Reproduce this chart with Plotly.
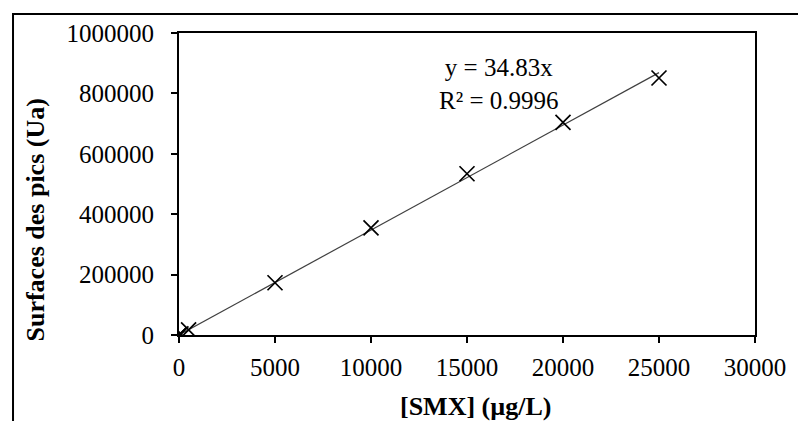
import plotly.graph_objects as go
import numpy as np

# Data
conc_smx = [0, 10, 50, 100, 500, 5000, 10000, 15000, 20000, 25000]
peak_area = [0, 350, 1700, 3500, 17000, 173000, 355000, 534000, 704000, 851000]

x_tickvals = [0, 5000, 10000, 15000, 20000, 25000, 30000]
y_tickvals = [0, 200000, 400000, 600000, 800000, 1000000]

equation_text = "y = 34.83x<br>R² = 0.9996"
x_title = "<b>[SMX] (µg/L)</b>"
y_title = "<b>Surfaces des pics (Ua)</b>"

# Linear trendline through origin (least squares, as a spreadsheet would)
xa = np.array(conc_smx, dtype=float)
ya = np.array(peak_area, dtype=float)
slope = float((xa * ya).sum() / (xa * xa).sum())
trend_x = [0, max(conc_smx)]
trend_y = [slope * v for v in trend_x]

FONT = "Liberation Serif"

fig = go.Figure()
fig.add_trace(go.Scatter(x=trend_x, y=trend_y, mode="lines",
                         line=dict(color="#404040", width=1.2), showlegend=False,
                         hoverinfo="skip"))
fig.add_trace(go.Scatter(x=conc_smx, y=peak_area, mode="markers",
                         marker=dict(symbol="x-thin", size=15,
                                     line=dict(color="black", width=1.7)),
                         showlegend=False))

fig.update_layout(
    width=798, height=421,
    margin=dict(l=179, r=36, t=33, b=86),
    paper_bgcolor="white", plot_bgcolor="white",
    hovermode=False,
    font=dict(family=FONT, size=25, color="black"),
    xaxis=dict(range=[0, 30000], tickvals=x_tickvals,
               ticktext=[str(v) for v in x_tickvals],
               showgrid=False, zeroline=False,
               showline=True, linecolor="black", linewidth=1.8, mirror=True,
               ticks="outside", ticklen=6, tickwidth=1.8, tickcolor="black",
               tickfont=dict(family=FONT, size=25), ticklabelstandoff=3),
    yaxis=dict(range=[0, 1000000], tickvals=y_tickvals,
               ticktext=[str(v) for v in y_tickvals],
               showgrid=False, zeroline=False,
               showline=True, linecolor="black", linewidth=1.8, mirror=True,
               ticks="outside", ticklen=6, tickwidth=1.8, tickcolor="black",
               tickfont=dict(family=FONT, size=25), ticklabelstandoff=12),
    annotations=[
        dict(x=16670, y=830000, xref="x", yref="y", text=equation_text,
             showarrow=False, font=dict(family=FONT, size=25),
             xanchor="center", yanchor="middle", align="center"),
        dict(x=0.5146, y=-0.238, xref="paper", yref="paper", text=x_title,
             showarrow=False, font=dict(family=FONT, size=26),
             xanchor="center", yanchor="middle"),
        dict(x=-0.249, y=0.381, xref="paper", yref="paper", text=y_title,
             showarrow=False, textangle=-90, font=dict(family=FONT, size=26),
             xanchor="center", yanchor="middle"),
    ],
    shapes=[dict(type="rect", xref="paper", yref="paper",
                 x0=(11 - 179) / 583, x1=2.0, y0=-1.0, y1=(335 - 14) / 302,
                 line=dict(color="black", width=2), layer="below")],
)

# remove the browser's default body margin so the figure fills the window exactly
fig.write_html("out.html",
               config={"displayModeBar": False},
               post_script="document.body.style.margin='0';document.body.style.overflow='hidden';")
